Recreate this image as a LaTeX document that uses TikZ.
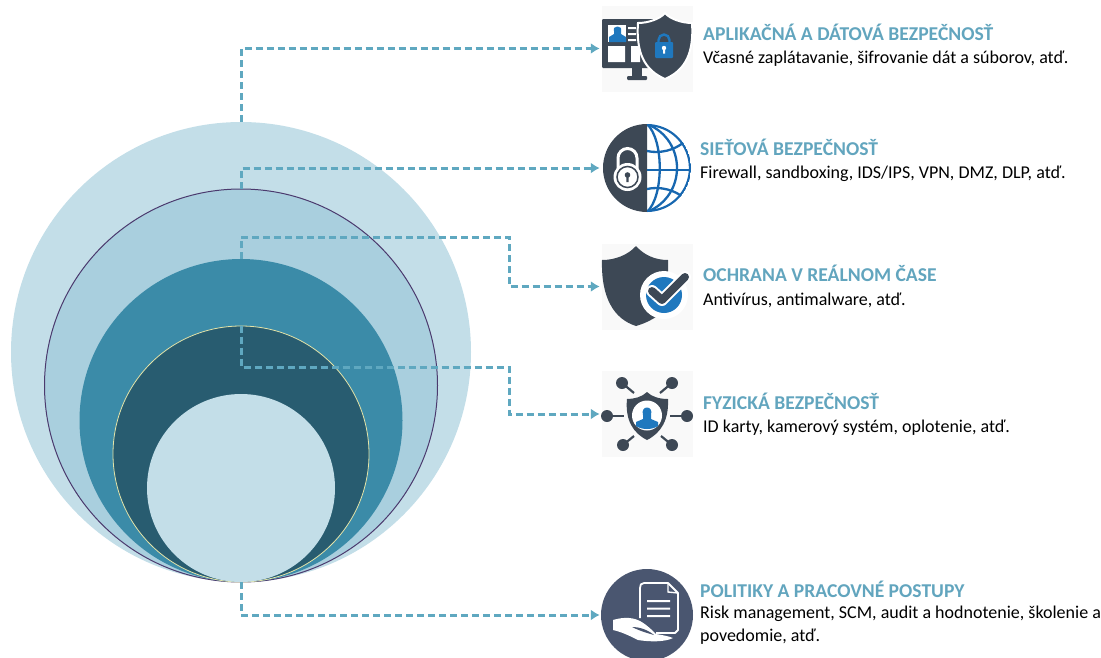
\documentclass[tikz,border=0pt]{standalone}
\usepackage{fontspec}
\setmainfont{Carlito}
\usetikzlibrary{arrows.meta}
\definecolor{bandA}{HTML}{C3DEE8}
\definecolor{bandB}{HTML}{A9CFDE}
\definecolor{bandC}{HTML}{3B8BA8}
\definecolor{bandD}{HTML}{285C70}
\definecolor{ringB}{HTML}{4B3A6E}
\definecolor{ringD}{HTML}{E4E4A8}
\definecolor{dashcol}{HTML}{5FA8C0}
\definecolor{headcol}{HTML}{62A5BE}
\definecolor{icondark}{HTML}{3D4855}
\definecolor{iconblue}{HTML}{1F78BE}
\definecolor{globeblue}{HTML}{1767B0}
\definecolor{iconpad}{HTML}{F9F9F9}
\definecolor{policol}{HTML}{4A5670}
\tikzset{
  band/.style={circle, inner sep=0pt, minimum size=#1},
  iconbox/.style={fill=iconpad, inner sep=0pt, minimum width=91pt, minimum height=86pt},
  link/.style={draw=dashcol, line width=3pt, dash pattern=on 7pt off 4pt, shorten >=2pt, -{Latex[length=9pt,width=11pt,color=dashcol]}},
  headtxt/.style={anchor=base west, inner sep=0pt, text=headcol, font=\fontsize{19.6}{22}\selectfont\bfseries},
  bodytxt/.style={anchor=base west, inner sep=0pt, text=black, font=\fontsize{18}{22.5}\selectfont, align=left},
  globeline/.style={globeblue, line width=2.3pt}
}
\begin{document}
\begin{tikzpicture}[x=1pt, y=-1pt]
\useasboundingbox (0,0) rectangle (1101,657);
% nested circles
\node[band=460pt, fill=bandA] (circA) at (241,352){};
\node[band=393pt, fill=bandB, draw=ringB, line width=1pt] (circB) at (241,385.5){};
\node[band=323pt, fill=bandC] (circC) at (241,420.5){};
\node[band=256pt, fill=bandD, draw=ringD, line width=.8pt] (circD) at (241,454){};
\node[band=188pt, fill=bandA] (circE) at (241,488){};
% icon pads
\node[iconbox] (iconA) at (647.5,48.5){};
\node[iconbox, fill=white] (iconB) at (647.5,168){};
\node[iconbox] (iconC) at (647.5,286.5){};
\node[iconbox] (iconD) at (647.5,414){};
\node[iconbox, fill=white] (iconE) at (647.5,615){};
% connectors
\coordinate (elbowC) at (509,237);
\coordinate (elbowD) at (509,367);
\draw[link] (circA.north) |- (iconA.west);
\draw[link] (circB.north) |- (iconB.west);
\draw[link] (circC.north) |- (elbowC) |- (iconC.west);
\draw[link] (circD.north) |- (elbowD) |- (iconD.west);
\draw[link] (circE.south) |- (iconE.west);
% first icon
\fill[icondark, rounded corners=1pt] (602,19) rectangle (655,68);
\fill[icondark] (632,68) rectangle (642,78);
\fill[icondark, rounded corners=1pt] (627,76) rectangle (647,80);
\fill[white] (608,25) rectangle (626,42);
\fill[iconblue] (609,42) -- (609,37) -- (614,34) -- (614,31) .. controls (612,25) and (623,25) .. (621,31) -- (621,34) -- (626,37) -- (626,42) -- cycle;
\fill[white] (628,27) rectangle (636,29) (628,33) rectangle (636,35) (628,39) rectangle (636,41);
\fill[white] (608,46) rectangle (625,62) (631,46) rectangle (640,62);
\draw[fill=icondark, draw=white, line width=2pt] (665,13) .. controls (670,19) and (682,23) .. (692,23) .. controls (694,52) and (686,70) .. (665,79) .. controls (644,70) and (636,52) .. (638,23) .. controls (648,23) and (660,19) .. (665,13) -- cycle;
\draw[iconblue, line width=2.4pt] (658.5,44) -- (658.5,40) arc[start angle=180, end angle=360, radius=5.5] -- (669.5,44);
\fill[iconblue, rounded corners=1pt] (655,42) rectangle (673,58);
\fill[white] (664,48) circle (2.2pt) (663,48) rectangle (665,53.5);
% second icon
\fill[icondark] (647,124) arc[start angle=-90, end angle=-270, radius=44] -- cycle;
\begin{scope}
\clip (647,124) arc[start angle=-90, end angle=90, radius=44] -- cycle;
\draw[globeline] (647,168) circle (43pt);
\draw[globeline] (647,124) .. controls (687,140) and (687,196) .. (647,212);
\draw[globeline] (647,124) .. controls (664,140) and (664,196) .. (647,212);
\draw[globeline] (647,170) -- (691,170);
\draw[globeline] (647,151) .. controls (660,154) and (675,150) .. (684,142);
\draw[globeline] (647,189) .. controls (660,186) and (675,190) .. (684,198);
\end{scope}
\draw[white, line width=3pt] (618,170) -- (618,158) arc[start angle=180, end angle=360, radius=9.5] -- (637,170);
\fill[white] (627.5,177) circle (14pt);
\draw[icondark, line width=1.5pt] (627.5,177) circle (10.5pt);
\fill[icondark] (627.5,175) circle (2.8pt) (626.3,175) rectangle (628.7,182);
% third icon
\fill[icondark] (636,246) .. controls (644,255) and (655,260) .. (668,260) -- (668,300) .. controls (668,312) and (650,322) .. (636,326) .. controls (614,319) and (601,298) .. (602,260) .. controls (615,260) and (628,255) .. (636,246) -- cycle;
\fill[white] (664,295) circle (24pt);
\fill[iconblue] (664,295) circle (18pt);
\draw[white, line width=12pt, line cap=round, line join=round] (652,291) -- (662,300) -- (685,277);
\draw[icondark, line width=8pt, line cap=round, line join=round] (652,291) -- (662,300) -- (685,277);
% fourth icon
\foreach \bx/\by/\ex/\ey in {622/383/634/393, 672/383/660/393, 607/416/624/416, 687/416/670/416, 623/445/634/436, 672/445/661/436}{
  \draw[icondark, line width=2.2pt] (\bx,\by) -- (\ex,\ey);
  \fill[icondark] (\bx,\by) circle (6pt);
}
\fill[icondark] (647,392) .. controls (652,397) and (660,399) .. (668,399) .. controls (669,420) and (661,433) .. (647,440) .. controls (633,433) and (625,420) .. (627,399) .. controls (634,399) and (642,397) .. (647,392) -- cycle;
\fill[white] (647,415.5) circle (15pt);
\fill[iconblue] (636,426) -- (636,422) -- (643,419) -- (643,415) .. controls (640,405) and (654,405) .. (651,415) -- (651,419) -- (658,422) -- (658,426) .. controls (652,430) and (642,430) .. (636,426) -- cycle;
% fifth icon
\fill[policol] (647,615) circle (46pt);
\draw[white, line width=1.8pt, line join=round] (656,633) -- (675,633) -- (678,630) -- (678,593) -- (668,583) -- (644,583) .. controls (641,583) and (640,585) .. (640,588) -- (640,618);
\draw[white, line width=1.4pt] (668,583) -- (668,592) -- (678,593);
\fill[white] (647,600) rectangle (670,602.2) (647,607.5) rectangle (670,609.7) (647,615) rectangle (670,617.2);
\fill[white] (613,620) .. controls (620,618) and (630,616) .. (640,621) .. controls (647,625) and (652,630) .. (656,634) .. controls (662,635) and (668,636) .. (673,638) .. controls (665,642) and (650,642) .. (638,640) .. controls (630,636) and (622,632) .. (613,630) -- cycle;
\fill[policol] (632,627) .. controls (640,627) and (648,630) .. (654,635) .. controls (647,633) and (640,631) .. (632,627) -- cycle;
% texts
\node[headtxt] (headA) at (703,40){APLIKAČNÁ A DÁTOVÁ BEZPEČNOSŤ};
\node[bodytxt] (bodyA) at (703,63){Včasné zaplátavanie, šifrovanie dát a súborov, atď.};
\node[headtxt] (headB) at (700,155){SIEŤOVÁ BEZPEČNOSŤ};
\node[bodytxt] (bodyB) at (700,178){Firewall, sandboxing, IDS/IPS, VPN, DMZ, DLP, atď.};
\node[headtxt] (headC) at (703,281){OCHRANA V REÁLNOM ČASE};
\node[bodytxt] (bodyC) at (703,305){Antivírus, antimalware, atď.};
\node[headtxt] (headD) at (703,409){FYZICKÁ BEZPEČNOSŤ};
\node[bodytxt] (bodyD) at (703,432){ID karty, kamerový systém, oplotenie, atď.};
\node[headtxt] (headE) at (700,597){POLITIKY A PRACOVNÉ POSTUPY};
\node[bodytxt, anchor=north west] (bodyE) at (700,606){Risk management, SCM, audit a hodnotenie, školenie a\\povedomie, atď.};
\end{tikzpicture}
\end{document}
